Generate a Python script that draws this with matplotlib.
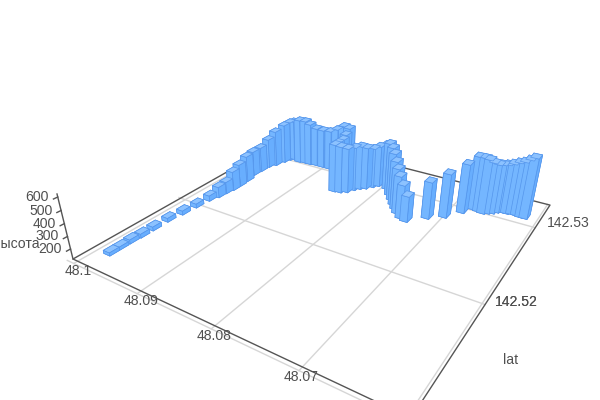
import numpy as np
import matplotlib
matplotlib.use('Agg')
import matplotlib.pyplot as plt
from mpl_toolkits.mplot3d import Axes3D  # noqa: F401

lon = [48.0983,48.0983,48.0983,48.0982,48.0982,48.0982,48.0979,48.0977,48.0975,48.0971,48.0970,48.0968,48.0968,
       48.0969,48.0973,48.0972,48.0971,48.0966,48.0962,48.0959,48.0956,48.0943,48.0934,48.0926,48.0916,48.0905,
       48.0893,48.0883,48.0872,48.0861,48.0858,48.0855,48.0854,48.0851,48.0843,48.0836,48.0831,48.0826,48.0820,
       48.0814,48.0809,48.0804,48.0794,48.0783,48.0775,48.0767,48.0760,48.0753,48.0744,48.0736,48.0717,48.0700,
       48.0686,48.0678,48.0670,48.0664,48.0659,48.0654,48.0650,48.0645,48.0639,48.0633,48.0627,48.0621,48.0616]
lat = [142.5122,142.5130,142.5139,142.5148,142.5159,142.5173,142.5186,142.5199,142.5212,142.5220,142.5228,
       142.5235,142.5243,142.5253,142.5264,142.5273,142.5283,142.5289,142.5298,142.5304,142.5307,142.5305,142.5306,
       142.5306,142.5307,142.5307,142.5307,142.5308,142.5308,142.5305,142.5297,142.5290,142.5282,142.5275,142.5276,
       142.5279,142.5285,142.5289,142.5292,142.5297,142.5301,142.5307,142.5300,142.5292,142.5286,142.5280,142.5275,
       142.5270,142.5265,142.5263,142.5275,142.5283,142.5296,142.5305,142.5304,142.5303,142.5305,142.5307,142.5310,
       142.5312,142.5312,142.5313,142.5313,142.5312,142.5312]
height = [143,143,150,150,150,150,152,152,164,210,220,284,313,343,336,339,378,436,467,478,479,513,512,493,464,462,469,
          496,539,545,523,511,516,530,520,503,496,497,480,463,473,474,522,534,521,492,464,436,400,332,425,483,527,562,
          568,567,542,526,519,519,534,549,564,594,617]

lon_ticks = [48.1, 48.09, 48.08, 48.07, 48.06]
lat_ticks = [142.51, 142.52, 142.53]
z_ticks = [200, 300, 400, 500, 600]

LON_HI, LON_SPAN = 48.1008, 0.0411
LAT_LO, LAT_SPAN = 142.5103, 0.0235
Z_LO, Z_HI = 118, 622
ZK = 1.225e-4

a, b, c, d, e, f, g, h = 217.4, 340.4, 73, 36.4, -60.2, 259, -.2934, .4403
VX, VY = 316, 1247
# projective camera: (s, t, zeta, 1) -> pixel position
P = np.array([[a, b, VX, c], [d, e, VY, f], [g, h, 1, 0], [g, h, 1, 1.0]])
S = np.array([[-1/LON_SPAN, 0, 0, LON_HI/LON_SPAN],
              [0, 1/LAT_SPAN, 0, -LAT_LO/LAT_SPAN],
              [0, 0, -ZK, Z_LO*ZK],
              [0, 0, 0, 1.0]])
M = P @ S

plt.rcParams['font.family'] = ['Liberation Sans', 'DejaVu Sans']
fig = plt.figure(figsize=(6, 4), dpi=100)
ax = fig.add_axes([0, -0.25, 1, 1.5], projection='3d')
ax.set_axis_off()
ax.patch.set_alpha(0)
ax.set_proj_type('ortho')
ax.viewLim.intervalx = (0, 600)
ax.viewLim.intervaly = (500, -100)
ax.get_proj = lambda: M

GRID = '#d6d6d6'
AXC = '#555555'
LON_LO, LAT_HI = 48.0597, 142.5338
for v in lon_ticks:
    ax.plot([v, v], [142.5100, LAT_HI], [Z_LO, Z_LO], color=GRID, lw=1)
for v in lat_ticks:
    ax.plot([LON_LO, 48.1011], [v, v], [Z_LO, Z_LO], color=GRID, lw=1)
ax.plot([LON_LO, LON_HI, LON_HI], [LAT_LO, LAT_LO, LAT_HI], [Z_LO]*3, color=AXC, lw=1)
ax.plot([LON_HI, LON_LO, LON_LO], [LAT_HI, LAT_HI, LAT_LO], [Z_LO]*3, color=AXC, lw=1)
ax.plot([LON_HI, LON_HI], [LAT_LO, LAT_LO], [Z_LO, Z_HI], color=AXC, lw=1)
for v in z_ticks:
    ax.plot([LON_HI, LON_HI], [LAT_LO, LAT_LO-0.0003], [v, v], color=AXC, lw=1)

dlon, dlat = 0.0010, 0.0008
lo = np.array(lon); la = np.array(lat); hh = np.array(height, float)
face = ['#6fb0ff', '#8cc2ff', '#74b6ff', '#74b6ff', '#68aefe', '#68aefe']
bars = ax.bar3d(lo-dlon/2, la-dlat/2, np.full_like(hh, Z_LO), dlon, dlat, hh-Z_LO,
                color=face*len(lo), edgecolor='#5596ec', linewidth=0.5, shade=False)
bars.set_zorder(5)

TXT = '#505050'
def label(x, y, s, **k):
    fig.text(x/600, 1-y/400, s, fontsize=10.1, color=TXT, ha='center', va='center', **k)
for s, x, y in zip(['48.1', '48.09', '48.08', '48.07'], [78, 141, 214, 301], [271, 301, 336, 377]):
    label(x, y, s)
label(568, 223, '142.53')
label(516, 302, '142.52'); label(516, 302, '142.52')
for v, x, y in zip(z_ticks, [50, 47, 44, 41, 37], [249, 236, 224, 211, 197]):
    label(x, y, str(v))
label(511, 360, 'lat')
fig.text(40/600, 1-244/400, 'высота', fontsize=10.1, color=TXT, ha='right', va='center')
fig.savefig('out.png', dpi=100)
